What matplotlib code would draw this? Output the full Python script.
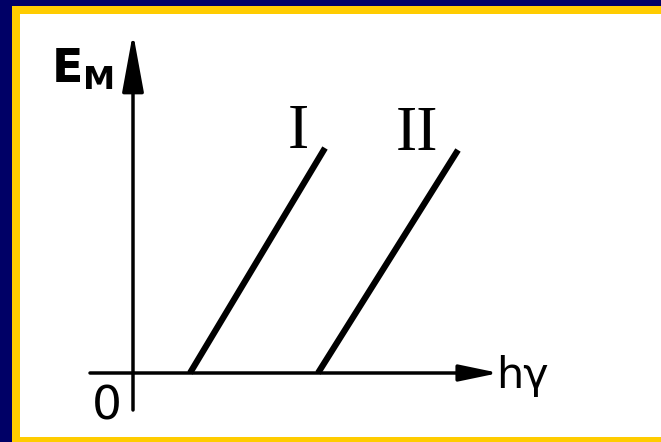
import matplotlib.pyplot as plt
from matplotlib.patches import Rectangle

# threshold frequency (where E_M = 0) and upper end of each line
labels = ["I", "II"]
nu_start = [57, 185]
nu_end = [192, 325]
e_end = [225, 223]
label_x = [165, 284]

W, H = 661, 442
fig = plt.figure(figsize=(W / 100, H / 100), dpi=100)
fig.patch.set_facecolor("#000066")

# yellow frame + white panel, in pixel coords
bg = fig.add_axes([0, 0, 1, 1])
bg.set_xlim(0, W)
bg.set_ylim(H, 0)
bg.axis("off")
bg.add_patch(Rectangle((12, 6), W + 50, H + 50, facecolor="#ffcc00",
                       edgecolor="none", clip_on=False))
bg.add_patch(Rectangle((20, 14), W + 50, 437 - 14, facecolor="white",
                       edgecolor="none", clip_on=False))

# plot axes: origin sits at pixel (133, 373)
ox, oy = 133, 373
ax = fig.add_axes([20 / W, (H - 437) / H, (W - 20) / W, (437 - 14) / H])
ax.set_xlim(20 - ox, W - ox)
ax.set_ylim(oy - 437, oy - 14)
ax.axis("off")

# axes with arrows
ax.annotate("", xy=(0, 340), xytext=(0, -37),
            arrowprops=dict(arrowstyle="-|>,head_length=1.8,head_width=0.33",
                            mutation_scale=20, lw=2.5, color="black",
                            shrinkA=0, shrinkB=0))
ax.annotate("", xy=(366, 0), xytext=(-43, 0),
            arrowprops=dict(arrowstyle="-|>,head_length=1.2,head_width=0.25",
                            mutation_scale=20, lw=2.5, color="black",
                            shrinkA=0, shrinkB=0))

for lab, x0, x1, y1, lx in zip(labels, nu_start, nu_end, e_end, label_x):
    ax.plot([x0, x1], [0, y1], color="black", lw=4.5, solid_capstyle="butt")
    ax.text(lx, y1, lab, ha="center", va="baseline",
            fontsize=46, family="Liberation Serif")

plt.rcParams["mathtext.fontset"] = "dejavusans"
ax.text(-82, 326, r"$\mathbf{E_M}$", ha="left", va="top", fontsize=33)
ax.text(-26, -12, "0", ha="center", va="top", fontsize=34)
ax.text(363, -3, "hγ", ha="left", va="center", fontsize=31)

fig.savefig("out.png", dpi=100, facecolor=fig.get_facecolor())
